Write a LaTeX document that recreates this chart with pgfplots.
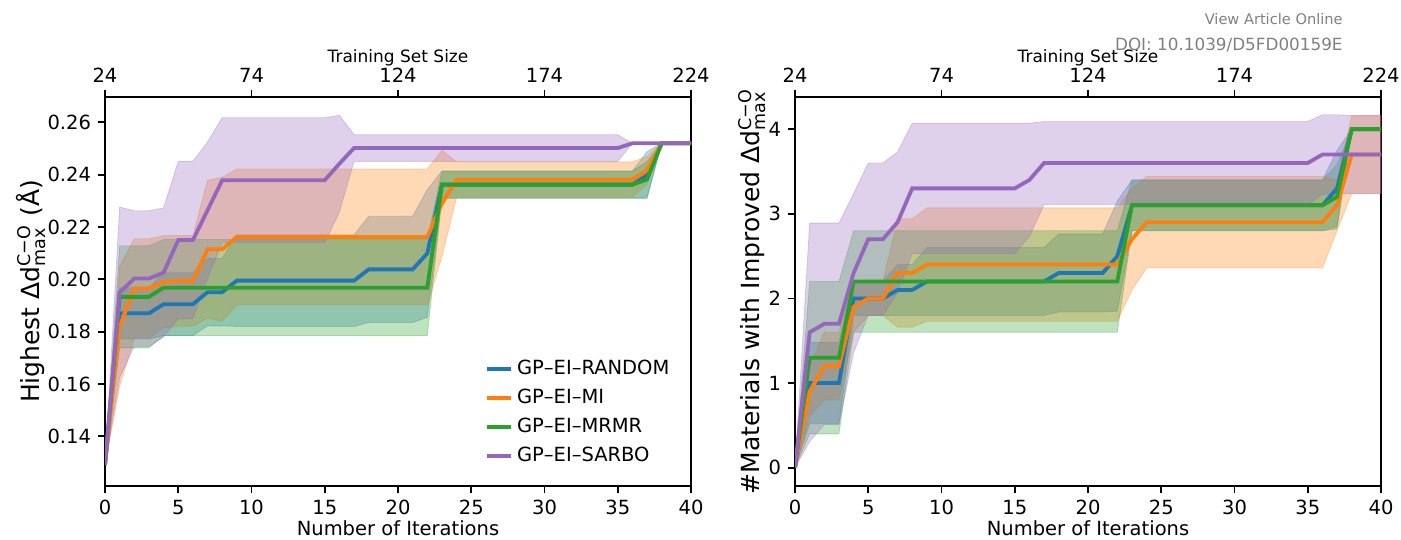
\documentclass[border=0pt]{standalone}
\usepackage{pgfplots}
\pgfplotsset{compat=1.18}
\usepgfplotslibrary{fillbetween}
\usepackage{pgfplotstable}
\usepackage{amsmath}
\usepackage{fontspec}
\setmainfont{DejaVu Sans}

\definecolor{cB}{HTML}{1F77B4}
\definecolor{cO}{HTML}{FF7F0E}
\definecolor{cG}{HTML}{2CA02C}
\definecolor{cP}{HTML}{9467BD}

% left panel: highest dd (mean, mean-std, mean+std)
\pgfplotstableread{
it m lo hi
0 0.1290 0.1290 0.1290
1 0.1870 0.1772 0.1968
3 0.1870 0.1772 0.1968
4 0.1905 0.1785 0.2025
6 0.1905 0.1785 0.2025
7 0.1951 0.1822 0.2080
8 0.1951 0.1822 0.2080
9 0.1995 0.1820 0.2170
17 0.1995 0.1820 0.2170
18 0.2038 0.1835 0.2241
21 0.2038 0.1835 0.2241
22 0.2099 0.1855 0.2343
23 0.2362 0.2310 0.2414
36 0.2362 0.2310 0.2414
37 0.2398 0.2308 0.2488
38 0.2520 0.2520 0.2520
40 0.2520 0.2520 0.2520
}\LB
\pgfplotstableread{
it m lo hi
0 0.1290 0.1290 0.1290
1 0.1820 0.1590 0.2050
2 0.1965 0.1775 0.2155
3 0.1965 0.1775 0.2155
4 0.1990 0.1813 0.2167
5 0.1994 0.1821 0.2167
6 0.1994 0.1821 0.2167
7 0.2115 0.1851 0.2379
8 0.2115 0.1840 0.2390
9 0.2162 0.1902 0.2422
22 0.2162 0.1902 0.2422
23 0.2290 0.2087 0.2493
24 0.2381 0.2313 0.2449
36 0.2381 0.2313 0.2449
37 0.2417 0.2364 0.2470
38 0.2520 0.2520 0.2520
40 0.2520 0.2520 0.2520
}\LO
\pgfplotstableread{
it m lo hi
0 0.1290 0.1290 0.1290
1 0.1933 0.1738 0.2128
3 0.1933 0.1738 0.2128
4 0.1968 0.1784 0.2152
22 0.1968 0.1784 0.2152
23 0.2362 0.2310 0.2414
36 0.2362 0.2310 0.2414
37 0.2382 0.2314 0.2450
38 0.2520 0.2520 0.2520
40 0.2520 0.2520 0.2520
}\LG
\pgfplotstableread{
it m lo hi
0 0.1290 0.1290 0.1290
1 0.1950 0.1624 0.2276
2 0.2003 0.1744 0.2262
3 0.2003 0.1744 0.2262
4 0.2026 0.1779 0.2273
5 0.2150 0.1849 0.2451
6 0.2150 0.1849 0.2451
7 0.2264 0.2003 0.2525
8 0.2379 0.2140 0.2618
15 0.2379 0.2140 0.2618
16 0.2442 0.2257 0.2627
17 0.2502 0.2451 0.2553
35 0.2502 0.2451 0.2553
36 0.2520 0.2520 0.2520
40 0.2520 0.2520 0.2520
}\LP

% right panel: number of improved materials
\pgfplotstableread{
it m lo hi
0 0 0 0
1 1.00 0.52 1.48
3 1.00 0.52 1.48
4 2.00 1.80 2.20
6 2.00 1.80 2.20
7 2.10 1.80 2.40
8 2.10 1.80 2.40
9 2.20 1.80 2.60
17 2.20 1.80 2.60
18 2.30 1.84 2.76
21 2.30 1.84 2.76
22 2.50 1.85 3.15
23 3.10 2.80 3.40
36 3.10 2.80 3.40
37 3.30 2.85 3.75
38 4.00 4.00 4.00
40 4.00 4.00 4.00
}\RB
\pgfplotstableread{
it m lo hi
0 0 0 0
1 0.90 0.60 1.20
2 1.20 0.80 1.60
3 1.20 0.80 1.60
4 1.90 1.60 2.20
5 2.00 1.80 2.20
6 2.00 1.80 2.20
7 2.30 1.66 2.94
8 2.30 1.66 2.94
9 2.40 1.73 3.07
22 2.40 1.73 3.07
23 2.70 2.10 3.30
24 2.90 2.36 3.44
36 2.90 2.36 3.44
37 3.10 2.80 3.40
38 3.70 3.24 4.16
40 3.70 3.24 4.16
}\RO
\pgfplotstableread{
it m lo hi
0 0 0 0
1 1.30 0.40 2.20
3 1.30 0.40 2.20
4 2.20 1.60 2.80
22 2.20 1.60 2.80
23 3.10 2.80 3.40
36 3.10 2.80 3.40
37 3.20 2.82 3.58
38 4.00 4.00 4.00
40 4.00 4.00 4.00
}\RG
\pgfplotstableread{
it m lo hi
0 0 0 0
1 1.60 0.31 2.89
2 1.70 0.51 2.89
3 1.70 0.51 2.89
4 2.30 1.36 3.24
5 2.70 1.80 3.60
6 2.70 1.80 3.60
7 2.90 2.07 3.73
8 3.30 2.53 4.07
15 3.30 2.53 4.07
16 3.40 2.73 4.07
17 3.60 3.11 4.09
35 3.60 3.11 4.09
36 3.70 3.23 4.17
37 3.70 3.23 4.17
38 3.70 3.24 4.16
40 3.70 3.24 4.16
}\RP

\newcommand{\fnt}{\fontsize{9.75}{11.5}\selectfont}
\newcommand{\yfnt}{\fontsize{12.5}{14}\selectfont}
\pgfplotsset{
  base/.style={
    scale only axis, width=293pt, height=194.5pt,
    xmin=0, xmax=40,
    tick align=outside, major tick length=3.5pt,
    axis line style={line width=0.9pt},
    every tick/.style={black, line width=0.9pt},
    tick label style={font=\fnt},
    label style={font=\fnt},
    /pgf/number format/assume math mode=true,
  },
  main/.style={base,
    xtick={0,5,...,40}, xtick pos=left, ytick pos=left,
    xlabel={Number of Iterations},
    xlabel style={at={(axis description cs:0.5,-0.108)}, anchor=center},
  },
  topax/.style={base,
    axis x line*=top, axis y line=none,
    xtick={0,10,20,30,40}, xticklabels={24,74,124,174,224},
    xlabel={Training Set Size},
    xlabel style={font=\fontsize{8.5}{10}\selectfont, at={(axis description cs:0.5,1.10)}, anchor=center},
    ymin=0, ymax=1,
  },
  band/.style={fill=#1, fill opacity=0.3, draw=#1, draw opacity=0.3, line width=0.4pt, forget plot},
  mline/.style={#1, line width=1.9pt},
}

\begin{document}
\begin{tikzpicture}

% ---- left panel ----
\begin{axis}[main, at={(52.5pt,27pt)}, anchor=south west,
  ymin=0.121, ymax=0.2697,
  ytick={0.14,0.16,...,0.26},
  yticklabel style={/pgf/number format/.cd, fixed, fixed zerofill, precision=2},
  ylabel={Highest Δd$^{\text{C−O}}_{\text{max}}$ (Å)},
  ylabel style={font=\yfnt, at={(axis description cs:-0.1263,0.5)}, anchor=center},
  legend style={draw=none, fill=none, font=\fnt, at={(0.638,0.345)}, anchor=north west,
    row sep=1.8pt},
  legend cell align=left,
  legend image code/.code={\draw[#1] (0pt,0pt) -- (12pt,0pt);},
]
\addplot[name path=lbh, draw=none, forget plot] table[x=it,y=hi]{\LB};
\addplot[name path=lbl, draw=none, forget plot] table[x=it,y=lo]{\LB};
\addplot[band=cB] fill between[of=lbh and lbl];
\addplot[name path=loh, draw=none, forget plot] table[x=it,y=hi]{\LO};
\addplot[name path=lol, draw=none, forget plot] table[x=it,y=lo]{\LO};
\addplot[band=cO] fill between[of=loh and lol];
\addplot[name path=lgh, draw=none, forget plot] table[x=it,y=hi]{\LG};
\addplot[name path=lgl, draw=none, forget plot] table[x=it,y=lo]{\LG};
\addplot[band=cG] fill between[of=lgh and lgl];
\addplot[name path=lph, draw=none, forget plot] table[x=it,y=hi]{\LP};
\addplot[name path=lpl, draw=none, forget plot] table[x=it,y=lo]{\LP};
\addplot[band=cP] fill between[of=lph and lpl];
\addplot[mline=cB] table[x=it,y=m]{\LB};
\addlegendentry{GP–EI–RANDOM}
\addplot[mline=cO] table[x=it,y=m]{\LO};
\addlegendentry{GP–EI–MI}
\addplot[mline=cG] table[x=it,y=m]{\LG};
\addlegendentry{GP–EI–MRMR}
\addplot[mline=cP] table[x=it,y=m]{\LP};
\addlegendentry{GP–EI–SARBO}
\end{axis}
\begin{axis}[topax, at={(52.5pt,27pt)}, anchor=south west]
\addplot[draw=none] coordinates {(0,0) (40,1)};
\end{axis}

% ---- right panel ----
\begin{axis}[main, at={(397.5pt,27pt)}, anchor=south west,
  ymin=-0.216, ymax=4.38,
  ytick={0,1,2,3,4},
  ylabel={\#Materials with Improved Δd$^{\text{C−O}}_{\text{max}}$},
  ylabel style={font=\yfnt, at={(axis description cs:-0.0734,0.5)}, anchor=center},
]
\addplot[name path=rbh, draw=none, forget plot] table[x=it,y=hi]{\RB};
\addplot[name path=rbl, draw=none, forget plot] table[x=it,y=lo]{\RB};
\addplot[band=cB] fill between[of=rbh and rbl];
\addplot[name path=roh, draw=none, forget plot] table[x=it,y=hi]{\RO};
\addplot[name path=rol, draw=none, forget plot] table[x=it,y=lo]{\RO};
\addplot[band=cO] fill between[of=roh and rol];
\addplot[name path=rgh, draw=none, forget plot] table[x=it,y=hi]{\RG};
\addplot[name path=rgl, draw=none, forget plot] table[x=it,y=lo]{\RG};
\addplot[band=cG] fill between[of=rgh and rgl];
\addplot[name path=rph, draw=none, forget plot] table[x=it,y=hi]{\RP};
\addplot[name path=rpl, draw=none, forget plot] table[x=it,y=lo]{\RP};
\addplot[band=cP] fill between[of=rph and rpl];
\addplot[mline=cB] table[x=it,y=m]{\RB};
\addplot[mline=cO] table[x=it,y=m]{\RO};
\addplot[mline=cG] table[x=it,y=m]{\RG};
\addplot[mline=cP] table[x=it,y=m]{\RP};
\end{axis}
\begin{axis}[topax, at={(397.5pt,27pt)}, anchor=south west]
\addplot[draw=none] coordinates {(0,0) (40,1)};
\end{axis}

\node[anchor=east, inner sep=0pt, text=gray, font=\fontsize{7.3}{8}\selectfont] at (671.5pt,260.5pt) {View Article Online};
\node[anchor=east, inner sep=0pt, text=gray, font=\fontsize{8.4}{9}\selectfont] at (671.5pt,247.5pt) {DOI: 10.1039/D5FD00159E};
\pgfresetboundingbox
\path[use as bounding box] (0,0) rectangle (700.5pt,270pt);
\end{tikzpicture}
\end{document}
